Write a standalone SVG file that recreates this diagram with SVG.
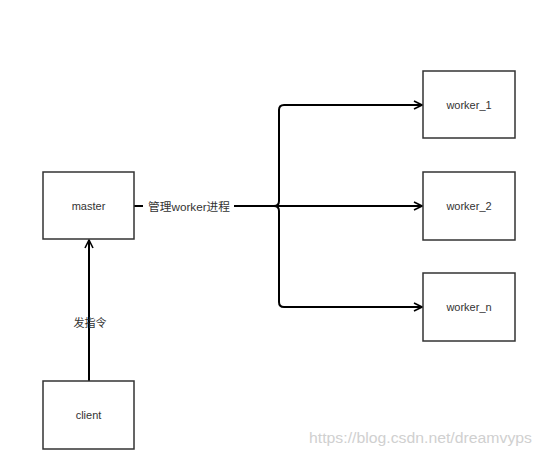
<svg xmlns="http://www.w3.org/2000/svg" width="541" height="457" viewBox="0 0 541 457">
<defs>
<style>
.box{fill:#fff;stroke:#333;stroke-width:1.5}
.lbl{font-family:"Liberation Sans","Noto Sans CJK SC",sans-serif;font-size:11px;fill:#333;text-anchor:middle;dominant-baseline:central}
.edge{fill:none;stroke:#000;stroke-width:2}
.wm{font-family:"Liberation Sans",sans-serif;font-size:15.5px;fill:#d0d0d0}
</style>
<marker id="open" viewBox="0 0 10 10" refX="9" refY="5" markerWidth="10" markerHeight="10" markerUnits="userSpaceOnUse" orient="auto">
<path d="M1 1 L9 5 L1 9" fill="none" stroke="#000" stroke-width="1.6"/>
</marker>
</defs>
<rect width="541" height="457" fill="#fff"/>
<g id="connectors">
<path class="edge" d="M89 381 V240" marker-end="url(#open)"/>
<path class="edge" d="M134 206 H422" marker-end="url(#open)"/>
<path class="edge" d="M270 206 H274 Q279 206 279 201 V110 Q279 105 284 105 H422" marker-end="url(#open)"/>
<path class="edge" d="M270 206 H274 Q279 206 279 211 V302 Q279 307 284 307 H422" marker-end="url(#open)"/>
<rect x="143" y="199" width="91" height="15" fill="#fff"/>
<text class="lbl" x="189" y="207" textLength="82" lengthAdjust="spacingAndGlyphs">管理worker进程</text>
<text class="lbl" x="90" y="323">发指令</text>
</g>
<g id="master"><rect class="box" x="43" y="172" width="91" height="67"/><text class="lbl" x="88.5" y="206">master</text></g>
<g id="client"><rect class="box" x="43" y="381" width="91" height="68"/><text class="lbl" x="88.5" y="415">client</text></g>
<g id="worker_1"><rect class="box" x="423" y="71" width="92" height="67"/><text class="lbl" x="469" y="105">worker_1</text></g>
<g id="worker_2"><rect class="box" x="423" y="172" width="92" height="68"/><text class="lbl" x="469" y="206">worker_2</text></g>
<g id="worker_n"><rect class="box" x="423" y="273" width="92" height="68"/><text class="lbl" x="469" y="307">worker_n</text></g>
<text class="wm" x="309" y="443" textLength="223" lengthAdjust="spacingAndGlyphs">https://blog.csdn.net/dreamvyps</text>
</svg>
